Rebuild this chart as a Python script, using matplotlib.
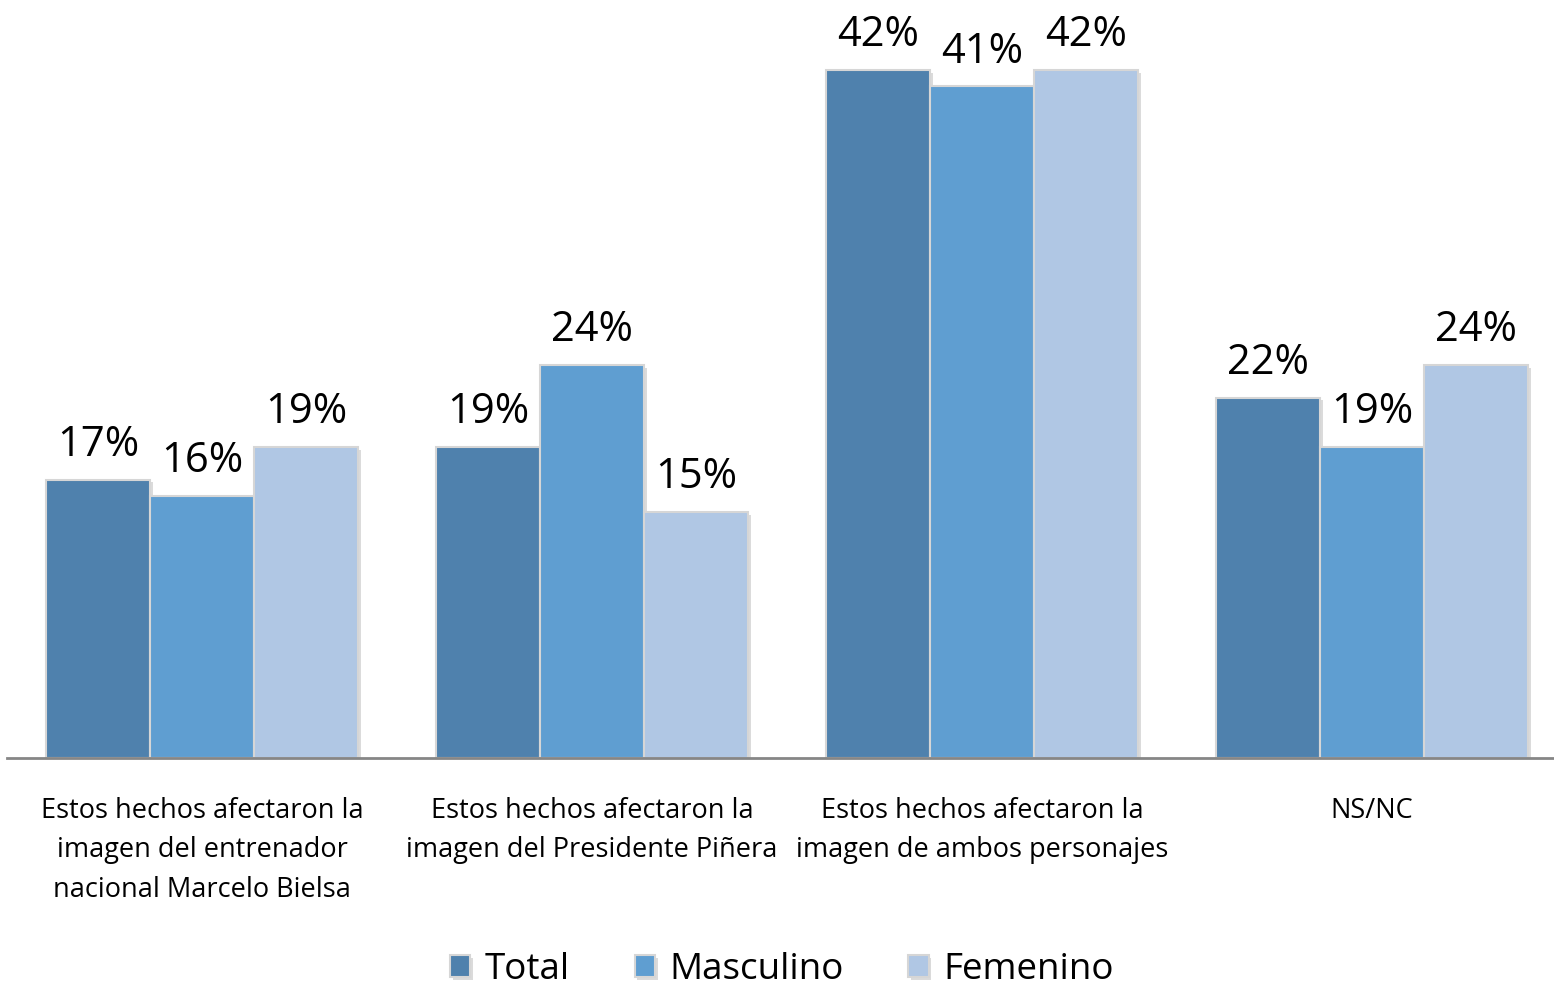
import matplotlib.pyplot as plt
import matplotlib.patheffects as pe
import numpy as np

# datos
categorias = ["Estos hechos afectaron la\nimagen del entrenador\nnacional Marcelo Bielsa",
              "Estos hechos afectaron la\nimagen del Presidente Piñera",
              "Estos hechos afectaron la\nimagen de ambos personajes",
              "NS/NC"]
series = ["Total", "Masculino", "Femenino"]
total = [17, 19, 42, 22]
masculino = [16, 24, 41, 19]
femenino = [19, 15, 42, 24]
colores = ["#4F81AD", "#5F9ED1", "#B0C7E4"]

plt.rcParams["font.family"] = ["Open Sans", "DejaVu Sans"]

fig = plt.figure(figsize=(15.54, 9.85), dpi=100)
ax = fig.add_axes([7 / 1554, 227 / 985, 1547 / 1554, 758 / 985])

x = np.arange(len(categorias))
ancho = 0.8 / 3
sombra = [pe.SimplePatchShadow(offset=(2, -2), shadow_rgbFace="#999999", alpha=0.35), pe.Normal()]

for i, (nombre, valores) in enumerate(zip(series, [total, masculino, femenino])):
    barras = ax.bar(x + (i - 1) * ancho, valores, ancho, color=colores[i], label=nombre,
                    edgecolor="#D6D6D6", linewidth=1.5, zorder=3)
    for b in barras:
        b.set_path_effects(sombra)
    for xi, v in zip(x + (i - 1) * ancho, valores):
        ax.annotate(f"{v}%", (xi, v), xytext=(0, 10), textcoords="offset points",
                    ha="center", va="bottom", fontsize=30, color="black")

ax.set_xlim(-0.5, -0.5 + 1547 / 390)
ax.set_ylim(0, 758 / 16.38)
ax.set_yticks([])
for s in ["top", "right", "left"]:
    ax.spines[s].set_visible(False)
ax.spines["bottom"].set_color("#868686")
ax.spines["bottom"].set_linewidth(2)
ax.spines["bottom"].set_zorder(4)
ax.set_xticks(x)
ax.set_xticklabels(categorias, fontsize=19.5, linespacing=1.54)
ax.tick_params(axis="x", length=0, pad=28)

ax.legend(loc="center", bbox_to_anchor=(782 / 1554, 1 - 970 / 985), bbox_transform=fig.transFigure,
          ncol=3, frameon=False, fontsize=26.5, handlelength=0.55, handleheight=0.55,
          handletextpad=0.4, columnspacing=1.75)

plt.savefig("out.png", dpi=100)
